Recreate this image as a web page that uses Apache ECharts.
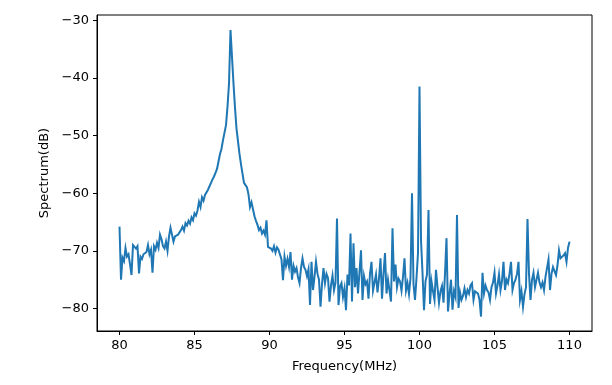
<!DOCTYPE html>
<html>
<head>
<meta charset="utf-8">
<script src="https://cdn.jsdelivr.net/npm/echarts@6/dist/echarts.min.js"></script>
<style>html,body{margin:0;padding:0;background:#fff}#c{width:612px;height:385px}</style>
</head>
<body>
<div id="c"></div>
<script>
const freqStart = 80;
const freqStep = 0.1;
const spectrum = [
  -65.8,-75.0,-71.2,-71.8,-69.5,-71.0,-70.6,-72.3,-74.2,-69.0,
  -68.7,-69.6,-69.2,-73.9,-71.0,-71.4,-70.6,-70.9,-70.2,-69.0,
  -70.6,-69.8,-73.8,-69.2,-69.8,-68.6,-69.5,-67.2,-68.0,-69.2,
  -69.6,-68.4,-70.0,-67.5,-66.0,-67.2,-68.4,-67.5,-67.8,-67.2,
  -66.8,-66.4,-65.8,-66.5,-65.2,-65.6,-64.8,-65.3,-64.2,-64.7,
  -63.5,-63.9,-63.0,-61.5,-62.4,-60.7,-61.3,-60.3,-60.0,-59.4,
  -58.8,-58.2,-57.6,-57.1,-56.5,-55.8,-54.5,-53.2,-52.3,-50.8,
  -49.5,-48.2,-45.0,-41.0,-31.7,-31.7,-41.0,-45.2,-48.8,-51.0,
  -53.2,-55.0,-56.6,-58.2,-58.6,-59.0,-60.2,-62.4,-61.6,-61.5,
  -64.0,-64.8,-65.5,-66.4,-66.0,-67.0,-66.5,-67.2,-64.7,-69.3,
  -69.0,-69.6,-70.0,-69.2,-70.3,-69.4,-69.8,-70.0,-71.5,-75.1,
  -71.0,-72.6,-71.4,-72.8,-70.2,-75.0,-72.6,-73.6,-73.0,-74.6,
  -75.6,-73.0,-71.3,-72.8,-73.3,-74.4,-73.2,-79.4,-71.9,-76.8,
  -74.5,-71.9,-74.0,-75.0,-79.7,-75.8,-73.0,-75.6,-74.0,-74.7,
  -78.8,-76.0,-74.3,-76.8,-75.5,-64.4,-79.4,-76.2,-75.6,-78.0,
  -76.5,-80.3,-74.1,-76.0,-67.0,-78.8,-68.7,-76.3,-73.0,-77.4,
  -77.4,-69.9,-78.5,-74.4,-75.8,-75.3,-78.3,-74.0,-71.9,-76.9,
  -75.5,-74.1,-77.2,-74.8,-71.3,-78.3,-74.0,-70.4,-77.4,-75.0,
  -75.3,-78.8,-66.1,-75.3,-72.4,-76.3,-74.8,-75.3,-76.9,-74.5,
  -71.3,-76.9,-75.6,-77.5,-74.7,-60.0,-75.8,-78.5,-74.7,-70.4,
  -41.5,-68.1,-73.8,-80.3,-75.3,-74.1,-62.9,-79.2,-75.3,-77.0,
  -78.5,-73.3,-76.3,-79.0,-77.0,-76.1,-79.0,-74.0,-67.8,-80.5,
  -77.5,-75.0,-80.2,-77.0,-78.0,-63.8,-79.9,-77.2,-78.5,-77.8,
  -76.5,-78.0,-76.8,-77.4,-76.0,-75.6,-78.5,-77.0,-76.8,-77.4,
  -78.5,-81.4,-73.8,-77.4,-76.0,-76.8,-77.2,-78.5,-76.3,-75.5,
  -73.8,-77.4,-76.0,-74.1,-76.8,-75.2,-71.9,-76.8,-75.0,-75.6,
  -74.0,-71.9,-76.8,-75.6,-75.0,-74.0,-71.9,-78.5,-77.0,-79.7,
  -77.5,-76.3,-64.5,-74.0,-78.5,-75.0,-73.8,-76.3,-75.0,-73.8,
  -75.5,-76.3,-75.5,-76.8,-74.5,-73.0,-71.5,-76.8,-74.0,-72.8,
  -73.5,-74.2,-72.5,-69.9,-71.3,-71.6,-70.8,-70.4,-71.9,-69.5,
  -68.4
];
const xTicks = [80, 85, 90, 95, 100, 105, 110];
const yTicks = [-80, -70, -60, -50, -40, -30];
const xLabel = 'Frequency(MHz)';
const yLabel = 'Spectrum(dB)';

const data = spectrum.map((v, i) => [Math.round((freqStart + i * freqStep) * 100) / 100, v]);
const font = 'DejaVu Sans';
const chart = echarts.init(document.getElementById('c'), null, {renderer: 'canvas'});
chart.setOption({
  animation: false,
  backgroundColor: '#fff',
  grid: {left: 97, right: 20, top: 15, bottom: 54, show: true, borderColor: '#000', borderWidth: 1, backgroundColor: 'transparent'},
  xAxis: {
    type: 'value', min: 78.5, max: 111.5,
    name: xLabel, nameLocation: 'middle', nameGap: 29,
    nameTextStyle: {fontFamily: font, fontSize: 13, color: '#000'},
    axisLine: {show: true, onZero: false, lineStyle: {color: '#000', width: 1}},
    axisTick: {show: true, inside: false, length: 4, lineStyle: {color: '#000', width: 1}, customValues: xTicks},
    axisLabel: {customValues: xTicks, fontFamily: font, fontSize: 13, color: '#000', margin: 8},
    splitLine: {show: false}
  },
  yAxis: {
    type: 'value', min: -83.9, max: -29.1,
    name: yLabel, nameLocation: 'middle', nameGap: 46,
    nameTextStyle: {fontFamily: font, fontSize: 13, color: '#000'},
    axisLine: {show: true, onZero: false, lineStyle: {color: '#000', width: 1}},
    axisTick: {show: true, inside: false, length: 4, lineStyle: {color: '#000', width: 1}, customValues: yTicks},
    axisLabel: {customValues: yTicks, fontFamily: font, fontSize: 13, color: '#000', margin: 8,
      formatter: v => (v < 0 ? '\u2212' + Math.abs(v) : String(v))},
    splitLine: {show: false}
  },
  series: [{
    type: 'line', data: data, showSymbol: false, symbol: 'none',
    lineStyle: {color: '#1f77b4', width: 2, join: 'miter'}, itemStyle: {color: '#1f77b4'}
  }]
});
</script>
</body>
</html>
